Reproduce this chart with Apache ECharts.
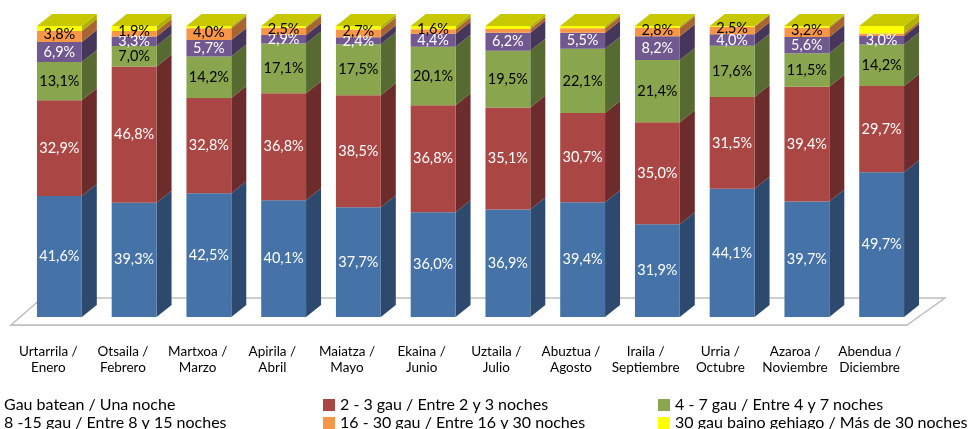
<!DOCTYPE html>
<html>
<head>
<meta charset="utf-8">
<script src="https://cdn.jsdelivr.net/npm/echarts@6/dist/echarts.min.js"></script>
<style>
  html, body { margin: 0; padding: 0; background: #fff; }
  #chart { width: 970px; height: 429px; }
</style>
</head>
<body>
<div id="chart"></div>
<script>
// meses
var months = ['Urtarrila /\nEnero', 'Otsaila /\nFebrero', 'Martxoa /\nMarzo', 'Apirila /\nAbril',
  'Maiatza /\nMayo', 'Ekaina /\nJunio', 'Uztaila /\nJulio', 'Abuztua /\nAgosto',
  'Iraila /\nSeptiembre', 'Urria /\nOctubre', 'Azaroa /\nNoviembre', 'Abendua /\nDiciembre'];

var names = ['Gau batean / Una noche', '2 - 3 gau / Entre 2 y 3 noches', '4 - 7 gau / Entre 4 y 7 noches',
  '8 -15 gau / Entre 8 y 15 noches', '16 - 30 gau / Entre 16 y 30 noches', '30 gau baino gehiago / Más de 30 noches'];

var una    = [41.6, 39.3, 42.5, 40.1, 37.7, 36.0, 36.9, 39.4, 31.9, 44.1, 39.7, 49.7];
var dosTres = [32.9, 46.8, 32.8, 36.8, 38.5, 36.8, 35.1, 30.7, 35.0, 31.5, 39.4, 29.7];
var cuatroSiete = [13.1, 7.0, 14.2, 17.1, 17.5, 20.1, 19.5, 22.1, 21.4, 17.6, 11.5, 14.2];
var ochoQuince = [6.9, 3.3, 5.7, 2.9, 2.4, 4.4, 6.2, 5.5, 8.2, 4.0, 5.6, 3.0];
var dieciseisTreinta = [3.8, 1.9, 4.0, 2.5, 2.7, 1.6, 1.3, 1.5, 2.8, 2.5, 3.2, 0.8];
var masTreinta = [1.7, 1.7, 0.8, 0.6, 1.2, 1.1, 1.0, 0.8, 0.7, 0.3, 0.6, 2.6];

var valores = [una, dosTres, cuatroSiete, ochoQuince, dieciseisTreinta, masTreinta];

// colores: frente, lateral, texto
var front = ['#4572a7', '#aa4643', '#89a54e', '#71588f', '#f79646', '#ffff00'];
var side  = ['#2d4a6e', '#6c2c2b', '#566a31', '#46375a', '#a8652f', '#b0b000'];
var txt   = ['#fff', '#fff', '#000', '#fff', '#000', '#000'];
var topColor = '#c8c800';

var DX = 15, DY = 12;   // profundidad 3D

function fmt(v) { return v.toFixed(1).replace('.', ',') + '%'; }

// bases acumuladas
var bases = [];
for (var s = 0; s < valores.length; s++) {
  bases.push(valores[s].map(function (v, i) {
    var b = 0;
    for (var k = 0; k < s; k++) b += valores[k][i];
    return b;
  }));
}

function makeRender(s) {
  return function (params, api) {
    var x = api.value(0), v = api.value(1), b = api.value(2);
    var p0 = api.coord([x, b]);
    var p1 = api.coord([x, b + v]);
    var w = api.size([1, 0])[0] * 0.6;
    var l = p0[0] - w / 2, r = p0[0] + w / 2;
    var children = [
      { type: 'polygon', shape: { points: [[r, p0[1]], [r + DX, p0[1] - DY], [r + DX, p1[1] - DY], [r, p1[1]]] },
        style: { fill: side[s] } },
      { type: 'rect', shape: { x: l, y: p1[1], width: w, height: p0[1] - p1[1] },
        style: { fill: front[s] } }
    ];
    if (s === valores.length - 1) {
      children.push({ type: 'polygon', shape: { points: [[l, p1[1]], [l + DX, p1[1] - DY], [r + DX, p1[1] - DY], [r, p1[1]]] },
        style: { fill: topColor } });
    }
    var showLabel = s < 4 || (s === 4 && v >= 1.6);
    if (showLabel) {
      children.push({ type: 'text', z2: 100, x: p0[0], y: (p0[1] + p1[1]) / 2 - (s === 4 ? 2 : 0),
        style: { text: fmt(v), fill: txt[s], align: 'center', verticalAlign: 'middle',
          font: '14.5px Lato' } });
    }
    return { type: 'group', children: children };
  };
}

var series = valores.map(function (arr, s) {
  return {
    name: names[s],
    type: 'custom',
    xAxisIndex: 0,
    yAxisIndex: 0,
    itemStyle: { color: s === 5 ? '#ffff00' : front[s] },
    renderItem: makeRender(s),
    data: arr.map(function (v, i) { return [i, v, bases[s][i]]; })
  };
});

// suelo
var floor = [[11, 325], [907, 325], [945, 298], [42, 298]];

// leyenda: una por elemento (3 columnas x 2 filas)
var legCols = [-13, 323, 658];
var legRows = [397, 415];
var legends = names.map(function (n, s) {
  return {
    data: [n], icon: 'rect', itemWidth: 12, itemHeight: 12, padding: 0,
    left: legCols[s % 3], top: legRows[Math.floor(s / 3)],
    textStyle: { fontFamily: 'Lato', fontSize: 16, color: '#000', lineHeight: 16 },
    selectedMode: false
  };
});

var chart = echarts.init(document.getElementById('chart'));
chart.setOption({
  animation: false,
  backgroundColor: '#fff',
  grid: [
    { left: 22, right: 51, top: 26, bottom: 112 },
    { left: 11, right: 63, top: 26, bottom: 104 }
  ],
  xAxis: [
    { type: 'category', gridIndex: 0, data: months, show: false },
    { type: 'category', gridIndex: 1, data: months,
      axisLine: { lineStyle: { color: '#bfbfbf' } },
      axisTick: { length: 5, lineStyle: { color: '#bfbfbf' } },
      axisLabel: { margin: 19, color: '#000', fontFamily: 'Lato', fontSize: 13.5, lineHeight: 16, interval: 0 } }
  ],
  yAxis: [
    { type: 'value', gridIndex: 0, min: 0, max: 100, show: false },
    { type: 'value', gridIndex: 1, min: 0, max: 100, show: false }
  ],
  legend: legends,
  graphic: [
    { type: 'polygon', z: -1, shape: { points: floor },
      style: { fill: '#fff', stroke: '#bfbfbf', lineWidth: 1.5 } }
  ],
  series: series
});
</script>
</body>
</html>
